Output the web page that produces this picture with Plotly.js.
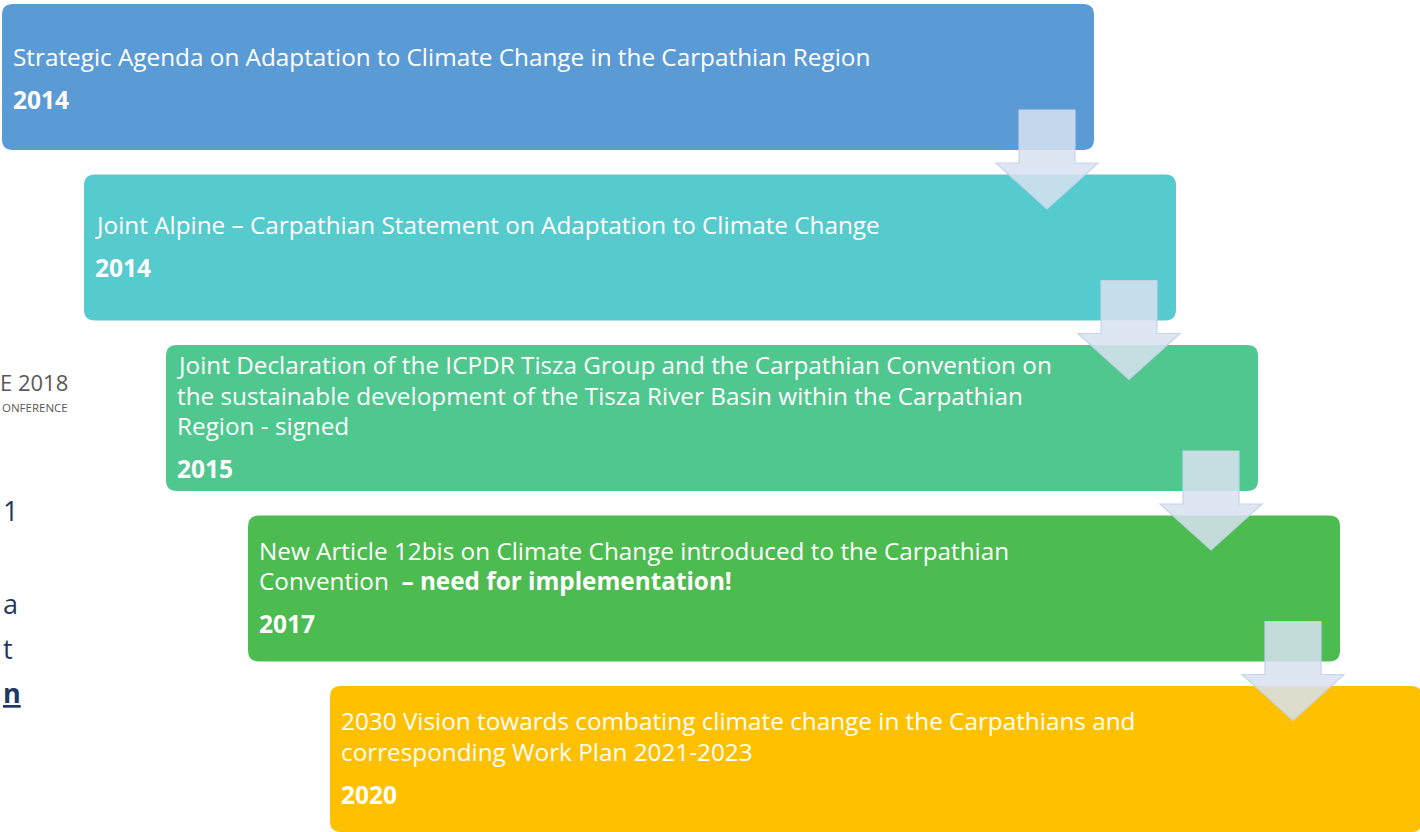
<!DOCTYPE html>
<html>
<head>
<meta charset="utf-8">
<script src="https://cdn.plot.ly/plotly-3.0.1.min.js"></script>
<style>html,body{margin:0;padding:0;background:#fff;overflow:hidden}#chart{width:1420px;height:832px}</style>
</head>
<body>
<div id="chart"></div>
<script>
// ---- data ----
const stepTitles = [
  "Strategic Agenda on Adaptation to Climate Change in the Carpathian Region",
  "Joint Alpine – Carpathian Statement on Adaptation to Climate Change",
  "Joint Declaration of the ICPDR Tisza Group and the Carpathian Convention on<br>the sustainable development of the Tisza River Basin within the Carpathian<br>Region - signed",
  "New Article 12bis on Climate Change introduced to the Carpathian<br>Convention  <b>– need for implementation!</b>",
  "2030 Vision towards combating climate change in the Carpathians and<br>corresponding Work Plan 2021-2023"
];
const stepYears = ["2014", "2014", "2015", "2017", "2020"];
const stepColors = ["#5B9BD5", "#55CBCD", "#4FC78E", "#4CBB50", "#FFC000"];
const sideTexts = ["E 2018", "ONFERENCE", "1", "a", "t", "n"];

// ---- layout geometry ----
const W = 1420, H = 832;
const boxW = 1092, boxH = 146, dx = 82, dy = 170.5, x0 = 2, y0 = 4, r = 11;
const fontFam = "'Open Sans', sans-serif";
const fs = 24.3, fsYear = 24.5, lineH = 30.5;

function roundRect(x, y, w, h, rad) {
  const x1 = x + w, y1 = y + h;
  return `M${x + rad},${y} L${x1 - rad},${y} Q${x1},${y} ${x1},${y + rad} L${x1},${y1 - rad} Q${x1},${y1} ${x1 - rad},${y1} L${x + rad},${y1} Q${x},${y1} ${x},${y1 - rad} L${x},${y + rad} Q${x},${y} ${x + rad},${y} Z`;
}
function arrowPath(cx, top) {
  const sw = 28, hw = 51, shaftBot = top + 53, tip = top + 99;
  return `M${cx - sw},${top} L${cx + sw},${top} L${cx + sw},${shaftBot} L${cx + hw},${shaftBot} L${cx},${tip} L${cx - hw},${shaftBot} L${cx - sw},${shaftBot} Z`;
}

const shapes = [];
const annotations = [];
stepTitles.forEach((t, i) => {
  const bx = x0 + dx * i, by = y0 + dy * i;
  shapes.push({type: "path", path: roundRect(bx, by, boxW, boxH, r), xref: "x", yref: "y",
    fillcolor: stepColors[i], line: {width: 0}, layer: "below"});
  const lines = t.split("<br>");
  const tc = by + (i === 0 ? 52 : 50);
  const firstLine = tc - (lines.length - 1) / 2 * lineH;
  lines.forEach((ln, k) => {
    annotations.push({x: bx + 9, y: firstLine + k * lineH, xref: "x", yref: "y", xanchor: "left", yanchor: "middle",
      align: "left", showarrow: false, text: ln, font: {family: fontFam, size: fs, color: "#ffffff"}});
  });
  const lastLine = firstLine + (lines.length - 1) * lineH;
  annotations.push({x: bx + 9, y: lastLine + 43, xref: "x", yref: "y", xanchor: "left", yanchor: "middle",
    align: "left", showarrow: false, text: "<b>" + stepYears[i] + "</b>", font: {family: fontFam, size: fsYear, color: "#ffffff"}});
});
for (let i = 0; i < stepTitles.length - 1; i++) {
  const cx = 1047 + dx * i, top = 110 + dy * i;
  shapes.push({type: "path", path: arrowPath(cx, top), xref: "x", yref: "y",
    fillcolor: "rgba(216,226,241,0.85)", line: {width: 1.2, color: "rgba(196,210,234,0.95)"}, layer: "above"});
}

// left-side partial texts (cut by page edge in the original slide)
const sideY = [382, 407, 510, 603, 648, 692];
const sideX = [70, 70, 0.5, 0.5, 0.5, 0.5];
const sideAnchor = ["right", "right", "left", "left", "left", "left"];
const sideSize = [22, 11.5, 27, 27, 27, 27];
const sideColor = ["#595959", "#595959", "#1F3864", "#1F3864", "#1F3864", "#1F3864"];
sideTexts.forEach((s, i) => {
  let txt = s;
  if (i === 5) txt = "<b><span style='text-decoration:underline'>" + s + "</span></b>";
  annotations.push({x: sideX[i], y: sideY[i], xref: "x", yref: "y", xanchor: sideAnchor[i], yanchor: "middle",
    showarrow: false, text: txt, font: {family: "'Open Sans', sans-serif", size: sideSize[i], color: sideColor[i]}});
});

const layout = {
  width: W, height: H,
  margin: {l: 0, r: 0, t: 0, b: 0},
  paper_bgcolor: "#ffffff", plot_bgcolor: "#ffffff",
  xaxis: {range: [0, W], visible: false, fixedrange: true},
  yaxis: {range: [H, 0], visible: false, fixedrange: true},
  showlegend: false,
  shapes: shapes,
  annotations: annotations
};
Plotly.newPlot("chart", [{x: [], y: [], type: "scatter"}], layout, {displayModeBar: false, staticPlot: true});
</script>
</body>
</html>
